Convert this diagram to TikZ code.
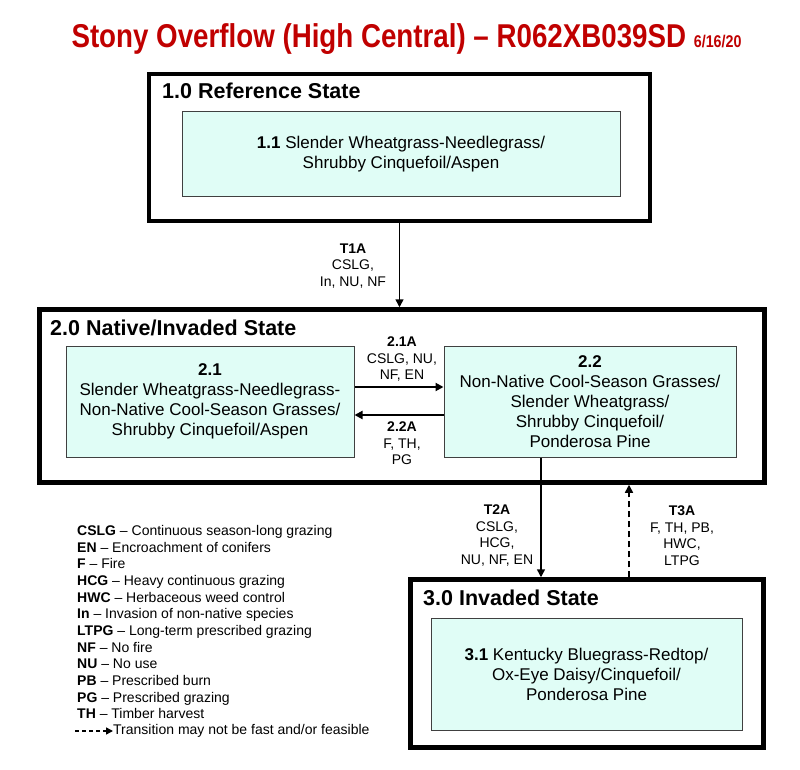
\documentclass[tikz,border=0pt]{standalone}
\usepackage{fontspec}
\setmainfont{Liberation Sans}
\newfontfamily\titlefont[FakeStretch=0.84, Ligatures=TeX]{Liberation Sans}
\usetikzlibrary{arrows.meta}

\definecolor{titlered}{HTML}{C00000}
\definecolor{phasefill}{HTML}{E0FDF6}

\tikzset{
  statebox/.style={draw=black, line width=4.5pt, rectangle, inner sep=0pt},
  statename/.style={anchor=west, inner sep=0pt, font=\fontsize{21.5}{24}\selectfont\bfseries},
  phasebox/.style={draw=black!75, line width=1pt, fill=phasefill, rectangle, inner sep=0pt,
    align=center, font=\fontsize{17}{20}\selectfont},
  translabel/.style={align=center, inner sep=0pt, font=\fontsize{14}{16.5}\selectfont},
  trans/.style={-{Triangle[width=8pt,length=8pt]}, line width=1.5pt},
}

\begin{document}
\begin{tikzpicture}[x=1pt, y=-1pt]
\useasboundingbox (0,0) rectangle (800,770);

\node[text=titlered, font=\titlefont\fontsize{33}{36}\selectfont\bfseries] (title) at (406.5,39)
  {Stony Overflow (High Central) -- R062XB039SD {\fontsize{17}{18}\selectfont 6/16/20}};

% state 1
\node[statebox, minimum width=501pt, minimum height=147pt] (s1) at (399.5,147.5) {};
\node[statename] (s1name) at (162,91) {1.0 Reference State};
\node[phasebox, minimum width=438pt, minimum height=85pt] (p11) at (401,154.5)
  {\textbf{1.1} Slender Wheatgrass-Needlegrass/\\Shrubby Cinquefoil/Aspen};

% state 2
\node[statebox, minimum width=725pt, minimum height=173pt] (s2) at (402,396) {};
\node[statename] (s2name) at (50,328) {2.0 Native/Invaded State};
\node[phasebox, minimum width=288pt, minimum height=111pt] (p21) at (210,401.5)
  {\textbf{2.1}\\Slender Wheatgrass-Needlegrass-\\Non-Native Cool-Season Grasses/\\Shrubby Cinquefoil/Aspen};
\node[phasebox, minimum width=292pt, minimum height=111pt] (p22) at (590,401.5)
  {\textbf{2.2}\\Non-Native Cool-Season Grasses/\\Slender Wheatgrass/\\Shrubby Cinquefoil/\\Ponderosa Pine};

% state 3
\node[statebox, minimum width=353pt, minimum height=168pt] (s3) at (587,663.5) {};
\node[statename] (s3name) at (423,598) {3.0 Invaded State};
\node[phasebox, minimum width=311pt, minimum height=112pt] (p31) at (586.5,674)
  {\textbf{3.1} Kentucky Bluegrass-Redtop/\\Ox-Eye Daisy/Cinquefoil/\\Ponderosa Pine};

% transitions
\draw[trans] (s1.south) -- (s1.south |- s2.north);
\node[translabel] (t1a) at (353,266) {\textbf{T1A}\\CSLG,\\In, NU, NF};

\draw[trans, line width=2pt] ([yshift=14.5pt]p21.east) -- ([yshift=14.5pt]p22.west);
\node[translabel] (p21a) at (402,359.5) {\textbf{2.1A}\\CSLG, NU,\\NF, EN};
\draw[trans, line width=2pt] ([yshift=-13.5pt]p22.west) -- ([yshift=-13.5pt]p21.east);
\node[translabel] (p22a) at (402,443.5) {\textbf{2.2A}\\F, TH,\\PG};

\draw[trans] ([xshift=-49pt]p22.south) -- ([xshift=-49pt]p22.south |- s3.north);
\node[translabel] (t2a) at (497,535.5) {\textbf{T2A}\\CSLG,\\HCG,\\NU, NF, EN};
\draw[trans, dash pattern=on 6pt off 4pt] ([xshift=42pt]s3.north) -- ([xshift=42pt]s3.north |- s2.south);
\node[translabel] (t3a) at (682,535.5) {\textbf{T3A}\\F, TH, PB,\\HWC,\\LTPG};

% legend
\node[anchor=north west, align=left, inner sep=0pt, font=\fontsize{14}{16.67}\selectfont] (legend) at (77,525) {%
  \textbf{CSLG} -- Continuous season-long grazing\\
  \textbf{EN} -- Encroachment of conifers\\
  \textbf{F} -- Fire\\
  \textbf{HCG} -- Heavy continuous grazing\\
  \textbf{HWC} -- Herbaceous weed control\\
  \textbf{In} -- Invasion of non-native species\\
  \textbf{LTPG} -- Long-term prescribed grazing\\
  \textbf{NF} -- No fire\\
  \textbf{NU} -- No use\\
  \textbf{PB} -- Prescribed burn\\
  \textbf{PG} -- Prescribed grazing\\
  \textbf{TH} -- Timber harvest};
\node[anchor=west, inner sep=0pt, font=\fontsize{14}{16.67}\selectfont] (legdash) at (113,731) {Transition may not be fast and/or feasible};
\draw[-{Triangle[width=7pt,length=7pt]}, line width=1.5pt, dash pattern=on 4pt off 3pt] ([xshift=-38pt]legdash.west) -- (legdash.west);
\end{tikzpicture}
\end{document}
